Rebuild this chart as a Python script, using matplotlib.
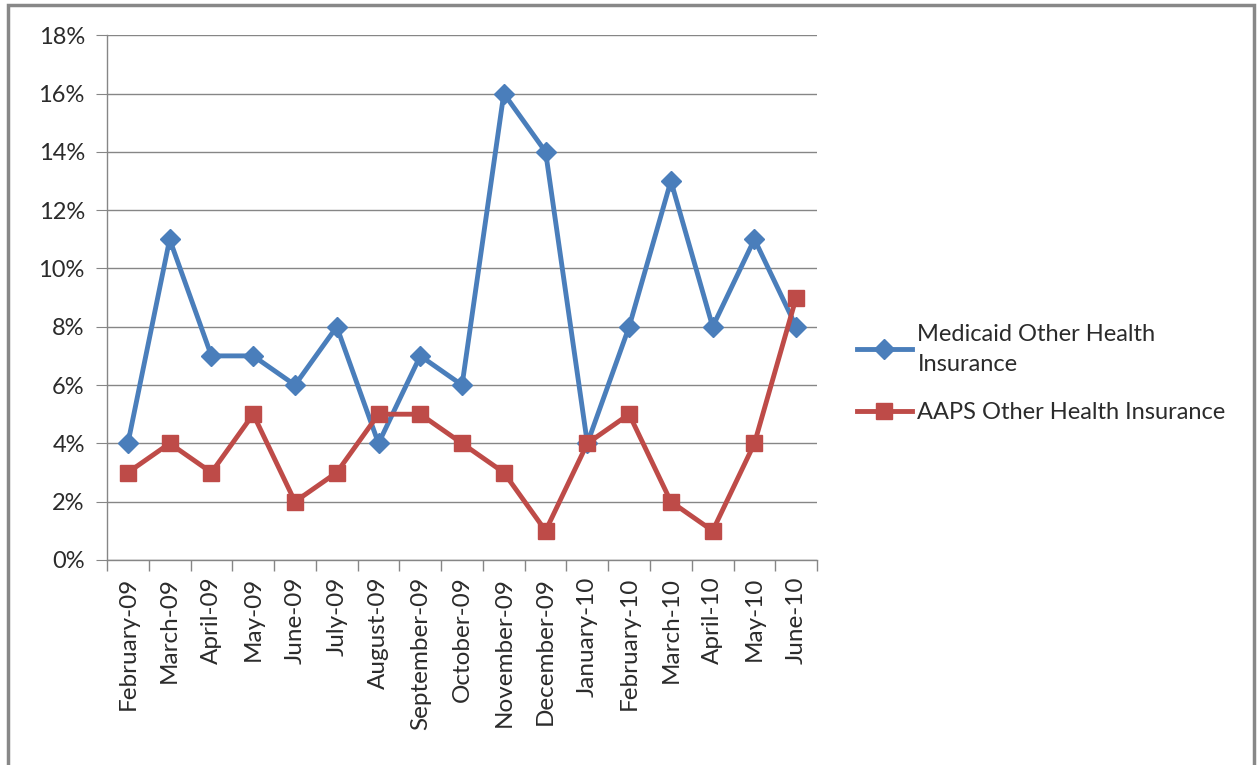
import matplotlib
matplotlib.use("Agg")
import matplotlib.pyplot as plt
from matplotlib.patches import Rectangle
from matplotlib.ticker import FixedLocator, PercentFormatter

months = ["February-09", "March-09", "April-09", "May-09", "June-09", "July-09",
          "August-09", "September-09", "October-09", "November-09", "December-09",
          "January-10", "February-10", "March-10", "April-10", "May-10", "June-10"]
medicaid = [4, 11, 7, 7, 6, 8, 4, 7, 6, 16, 14, 4, 8, 13, 8, 11, 8]
aaps = [3, 4, 3, 5, 2, 3, 5, 5, 4, 3, 1, 4, 5, 2, 1, 4, 9]
yticks = [0, 2, 4, 6, 8, 10, 12, 14, 16, 18]

plt.rcParams['font.family'] = ['Lato', 'DejaVu Sans']
TXT = '#2b2b2b'

fig = plt.figure(figsize=(12.59, 7.65), dpi=100)
fig.patches.append(Rectangle((0.006, -0.01), 0.99, 1.004, transform=fig.transFigure,
                             fill=False, edgecolor='#888888', linewidth=2.5))
ax = fig.add_axes([0.085, 0.268, 0.564, 0.686])

x = list(range(len(months)))
ax.plot(x, medicaid, color='#4A7EBB', linewidth=3.5, marker='D', markersize=10,
        label='Medicaid Other Health\nInsurance', zorder=3)
ax.plot(x, aaps, color='#BE4B48', linewidth=3.5, marker='s', markersize=12,
        label='AAPS Other Health Insurance', zorder=3)

ax.set_xlim(-0.5, len(months) - 0.5)
ax.set_ylim(0, 18)
ax.set_yticks(yticks)
ax.yaxis.set_major_formatter(PercentFormatter(decimals=0))
ax.grid(axis='y', color='#868686', linewidth=1)
ax.set_axisbelow(True)

ax.set_xticks(x)
ax.set_xticklabels(months, rotation=90, fontsize=17.5, color=TXT)
ax.xaxis.set_minor_locator(FixedLocator([i - 0.5 for i in range(len(months) + 1)]))
ax.tick_params(axis='x', which='major', length=0, pad=12)
ax.tick_params(axis='x', which='minor', length=8, color='#868686', width=1)
ax.tick_params(axis='y', length=8, color='#868686', labelsize=17, labelcolor=TXT, pad=8)

for s in ['top', 'right']:
    ax.spines[s].set_visible(False)
for s in ['left', 'bottom']:
    ax.spines[s].set_color('#868686')
    ax.spines[s].set_linewidth(1)

leg = fig.legend(loc='center left', bbox_to_anchor=(0.664, 0.512), frameon=False,
                 fontsize=17, handlelength=2.3, labelspacing=1.15, handletextpad=0.25)
for t in leg.get_texts():
    t.set_color(TXT)
    t.set_linespacing(1.55)

fig.savefig('out.png', dpi=100)
